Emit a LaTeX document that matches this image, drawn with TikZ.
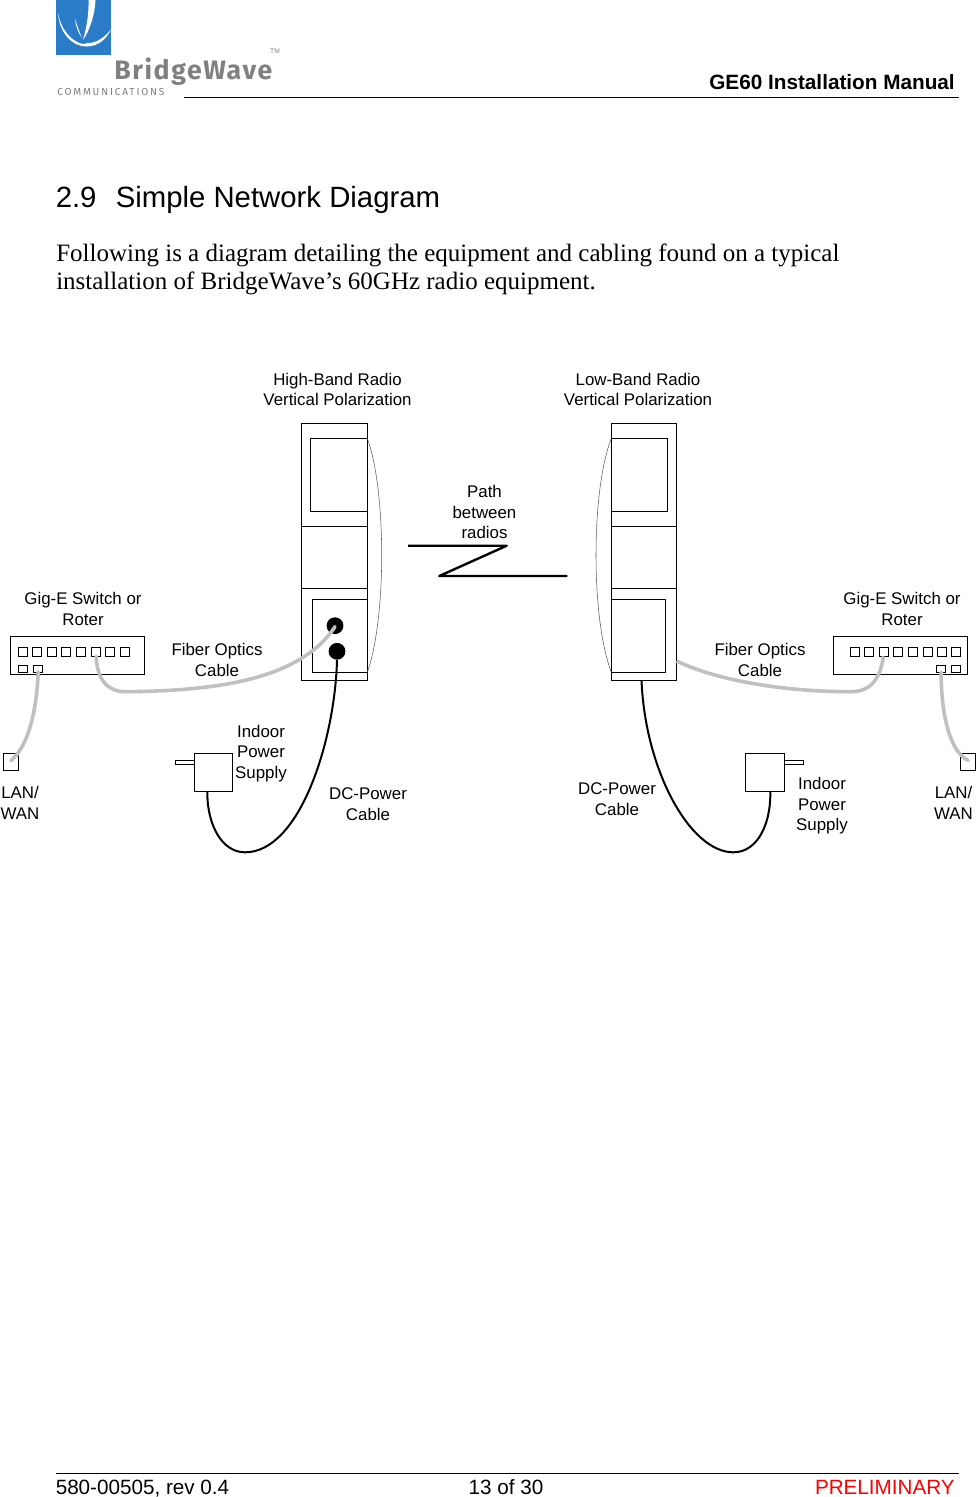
\documentclass[tikz,border=0pt]{standalone}
\usepackage{fontspec}
\setmainfont{Liberation Sans}
\newfontfamily\bodyfont{Liberation Serif}
\newfontfamily\logofont{Fira Sans}[LetterSpace=6]
\newfontfamily\logosmall{Fira Sans}[LetterSpace=18]
\definecolor{logoblue}{HTML}{2A7BC8}
\definecolor{logogray}{HTML}{808080}
\definecolor{cablegray}{HTML}{C0C0C0}
\definecolor{prelimred}{HTML}{FF0000}
\newcommand{\pxbox}[6][boxn]{%
  \pgfmathsetmacro{\bw}{(#5-#3)*0.75}\pgfmathsetmacro{\bh}{(#6-#4)*0.75}%
  \node[#1,minimum width=\bw pt,minimum height=\bh pt] (#2) at ({(#3+#5)/2},{(#4+#6)/2}) {};}
\tikzset{
  x=0.75pt,y=-0.75pt,
  boxn/.style={draw=black,line width=0.75pt,inner sep=0pt,outer sep=0pt,fill=none},
  portbox/.style={boxn,line width=0.7pt},
  lbl/.style={align=center,font=\fontsize{12.65pt}{15.4pt}\selectfont,inner sep=0pt},
  copper/.style={line width=1.5pt,black},
  fiber/.style={line width=2.7pt,cablegray,line cap=round},
  lens/.style={line width=0.4pt,black!65},
  hop/.style={line width=1.8pt,black,line join=round},
  hdr/.style={font=\fontsize{15.55pt}{18pt}\selectfont\bfseries,inner sep=0pt},
  foot/.style={font=\fontsize{15.5pt}{18pt}\selectfont,inner sep=0pt},
  rule/.style={line width=0.75pt,black},
  jack/.style={circle,fill=black,inner sep=0pt,minimum size=12.6pt}
}
\begin{document}
\begin{tikzpicture}
\useasboundingbox (0,0) rectangle (976,1497);
% logo
\fill[logoblue] (56,0) rectangle (111.3,55);
\fill[white] (58,13) .. controls (59,32) and (72,47) .. (87,46.5) .. controls (98,46) and (106,40) .. (111.3,29) .. controls (105,37) and (97,43) .. (88,43) .. controls (86,43) and (85,44) .. (83,44) .. controls (72,42) and (61,30) .. (58,13) -- cycle;
\fill[white] (88.5,0) .. controls (89,15) and (86,30) .. (83,40) .. controls (89,32) and (95,15) .. (95.5,0) -- cycle;
\fill[white] (75,19) .. controls (75.5,26) and (78,32) .. (82,38) .. controls (79,31) and (77,25) .. (75,19) -- cycle;
\node[inner sep=0pt,anchor=base west,text=logogray,font=\fontsize{20pt}{24pt}\selectfont\logofont\bfseries] (logoword) at (114,79) {BridgeWave};
\node[inner sep=0pt,anchor=base west,text=logogray,font=\fontsize{7.6pt}{9pt}\selectfont\logosmall] (logocomm) at (57,95.7) {COMMUNICATIONS};
\node[inner sep=0pt,text=logogray,font=\fontsize{5pt}{6pt}\selectfont] (logotm) at (275,51.5) {TM};
% header
\node[hdr,anchor=base east] (headtitle) at (955,89) {GE60 Installation Manual};
\coordinate (hl) at (184,97.5); \coordinate (hr) at (958.5,97.5);
\draw[rule] (hl) -- (hr);
\node[inner sep=0pt,anchor=base west,font=\fontsize{22pt}{26pt}\selectfont] (secnum) at (55.5,207) {2.9};
\node[inner sep=0pt,anchor=base west,font=\fontsize{22pt}{26pt}\selectfont] (sectitle) at (115.5,207) {Simple Network Diagram};
\node[inner sep=0pt,anchor=base west,font=\fontsize{18.75pt}{21pt}\selectfont\bodyfont] (para1) at (56,261) {Following is a diagram detailing the equipment and cabling found on a typical};
\node[inner sep=0pt,anchor=base west,font=\fontsize{18.75pt}{21pt}\selectfont\bodyfont] (para2) at (56,289.5) {installation of BridgeWave’s 60GHz radio equipment.};
% left radio
\pxbox{lradio}{301.3}{423.3}{367.3}{680}
\pxbox{lmid}{301.3}{526.3}{367.3}{588.3}
\pxbox{ltop}{310.3}{438.3}{367.3}{511.3}
\pxbox{lbot}{312.3}{599.3}{367.3}{672.3}
\node[jack] (ljackf) at (335,625.7) {};
\node[jack] (ljackd) at (337,651.3) {};
\draw[lens] (ltop.north east) .. controls (377,465) and (381.7,510) .. (381.7,555) .. controls (381.7,600) and (377,645) .. (lbot.south east);
% right radio
\pxbox{rradio}{611.3}{423.3}{676.7}{680}
\pxbox{rmid}{611.3}{526.3}{676.7}{588.3}
\pxbox{rtop}{611.3}{438.3}{667.7}{511.3}
\pxbox{rbot}{611.3}{599.3}{665.7}{672.3}
\draw[lens] (rtop.north west) .. controls (601,465) and (596,510) .. (596,555) .. controls (596,600) and (601,645) .. (rbot.south west);
% path
\coordinate (z1) at (408,545.7); \coordinate (z2) at (506.7,545.7);
\coordinate (z3) at (439.3,576); \coordinate (z4) at (567.3,576);
\draw[hop] (z1) -- (z2) -- (z3) -- (z4);
% left switch
\pxbox{lsw}{10.3}{636.3}{144.3}{674.3}
\foreach \i/\x in {1/18.3,2/32.7,3/47.3,4/61.7,5/76.3,6/91.7,7/105.7,8/120}{
  \pxbox[portbox]{lp\i}{\x}{647.7}{\x+9}{656.3}}
\pxbox[portbox]{lq1}{18.3}{665.7}{27.7}{672}
\pxbox[portbox]{lq2}{33.7}{665.7}{42.7}{672}
% right switch
\pxbox{rsw}{833.3}{636.3}{967.3}{674.3}
\foreach \i/\x in {1/850.3,2/864.7,3/879,4/893.3,5/908.3,6/923,7/937.3,8/951.7}{
  \pxbox[portbox]{rp\i}{\x}{647.7}{\x+9}{656.3}}
\pxbox[portbox]{rq1}{936.7}{665.7}{945.7}{672}
\pxbox[portbox]{rq2}{951.7}{665.7}{960.7}{672}
% LAN boxes
\pxbox{llan}{3.3}{753.3}{18.7}{770.7}
\pxbox{rlan}{960.3}{753.3}{975.7}{770.7}
% supplies
\pxbox{lsup}{194.3}{753.3}{232.3}{791.3}
\pxbox{lplug}{175.3}{760.3}{194.3}{764.3}
\pxbox{rsup}{745.3}{753.3}{784.3}{791.3}
\pxbox{rplug}{784.3}{760.3}{803.3}{764.3}
% cables
\coordinate (lanL) at (11,760.5);
\coordinate (lanR) at (968.3,760.5);
\coordinate (fibL) at (335,626.7);
\coordinate (fibR) at (676.7,661);
\draw[fiber] (lq2.south) .. controls (37,705) and (30,745) .. (lanL);
\draw[fiber] (rq1.south) .. controls (941,715) and (950,752) .. (lanR);
\draw[fiber] (lp6.south) .. controls (97,680) and (108,691.7) .. (125,691.7) .. controls (215,691) and (300,680) .. (fibL);
\draw[fiber,line cap=butt] (fibR) .. controls (720,682) and (790,691.7) .. (850,691.7) .. controls (870,692) and (880,680) .. (rp3.south);
\draw[copper] (ljackd.south) .. controls (335,740) and (300,852.3) .. (245,852.3) .. controls (222,852.3) and (207,825) .. ([xshift=-6*0.75pt]lsup.south);
\draw[copper] ([xshift=-2.5*0.75pt]rradio.south) .. controls (645,770) and (690,852.3) .. (733.3,852.3) .. controls (757,852.3) and (771,825) .. ([xshift=5.5*0.75pt]rsup.south);
% labels
\node[lbl] (tHigh) at (337.5,389.5) {High-Band Radio\\Vertical Polarization};
\node[lbl] (tLow) at (638,389.5) {Low-Band Radio\\Vertical Polarization};
\node[lbl] (tPath) at (484.5,512) {Path\\between\\radios};
\node[lbl] (tSwL) at (83,608.7) {Gig-E Switch or\\Roter};
\node[lbl] (tSwR) at (902,608.7) {Gig-E Switch or\\Roter};
\node[lbl] (tFibL) at (217,660) {Fiber Optics\\Cable};
\node[lbl] (tFibR) at (760,660) {Fiber Optics\\Cable};
\node[lbl] (tSupL) at (261,753.3) {Indoor\\Power\\Supply};
\node[lbl] (tSupR) at (822,805.8) {Indoor\\Power\\Supply};
\node[lbl] (tDcL) at (368,804) {DC-Power\\Cable};
\node[lbl] (tDcR) at (617,799) {DC-Power\\Cable};
\node[lbl] (tLanL) at (20,803) {LAN/\\WAN};
\node[lbl] (tLanR) at (953.5,803) {LAN/\\WAN};
% footer
\coordinate (fl) at (56,1473.5); \coordinate (fr) at (958.5,1473.5);
\draw[rule] (fl) -- (fr);
\node[foot,anchor=base west] (footL) at (55.5,1494) {580-00505, rev 0.4};
\node[foot,anchor=base] (footC) at (506,1494) {13 of 30};
\node[foot,anchor=base east,text=prelimred] (footR) at (955,1494) {PRELIMINARY};
\end{tikzpicture}
\end{document}
